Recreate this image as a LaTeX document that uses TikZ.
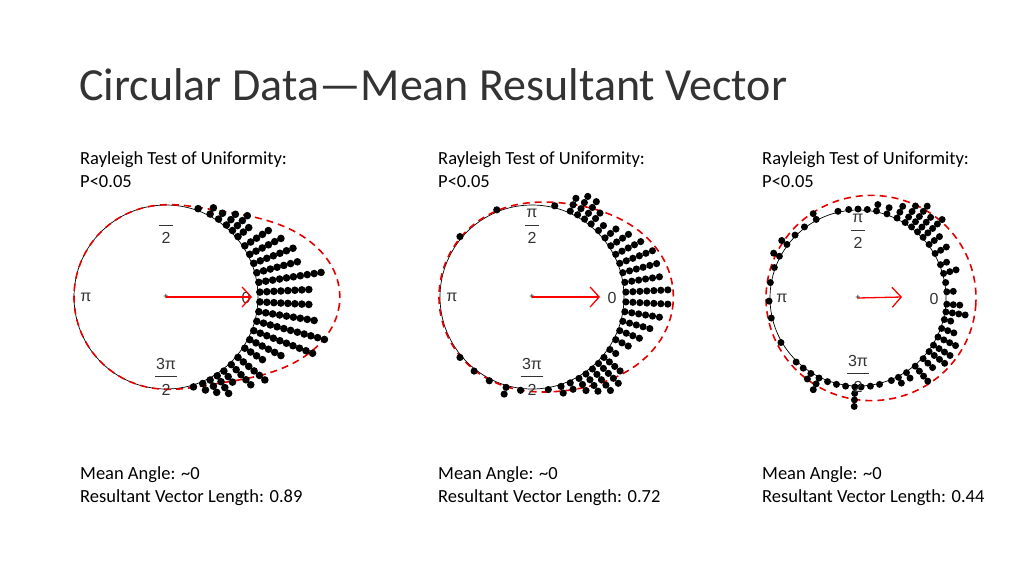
\documentclass[tikz,border=0pt]{standalone}
\usepackage{fontspec}
\setmainfont{Carlito}
\newfontfamily\plotfont{Liberation Sans}
\usetikzlibrary{arrows.meta,calc}
\begin{document}
\begin{tikzpicture}[x=1pt,y=-1pt,
  txt/.style={anchor=base west,inner sep=0,font=\fontsize{18.5}{20}\selectfont},
  lab/.style={inner sep=0,font=\plotfont\fontsize{16}{18}\selectfont,text=black!80},
  dens/.style={red!90!black,dashed,dash pattern=on 7pt off 5pt,line width=1.6pt},
  vec/.style={red,line width=1.3pt,-{Straight Barb[length=9pt,width=20pt,line width=1.3pt]}},
  circ/.style={black,line width=0.7pt}]
\useasboundingbox (0,0) rectangle (1024,576);
\fill[white] (0,0) rectangle (1024,576);
\node[anchor=base west,inner sep=0,font=\fontsize{46}{52}\selectfont,text=black!80] (title) at (79,100) {Circular Data—Mean Resultant Vector};
% texts
\foreach \x/\v [count=\i] in {80/0.89,438/0.72,762/0.44}{
  \node[txt] (ra\i) at (\x,164) {Rayleigh Test of Uniformity:};
  \node[txt] (rb\i) at (\x,187) {P<0.05};
  \node[txt] (ma\i) at (\x,479) {Mean Angle: \textasciitilde 0};
  \node[txt] (mb\i) at (\x,502) {Resultant Vector Length: \v};
}
% centres
\coordinate (c1) at (166,297);
\coordinate (c2) at (532,297);
\coordinate (c3) at (858,298);
% plot 1
\draw[circ] (c1) circle (92);
\draw[dens,shift={(c1)}] plot[domain=0:360,samples=160,smooth cycle] (\x:{92*(1+0.89*((1+cos(\x))/2)^8)});
\foreach \a/\n in {70/1,62/2,56/2,50/3,45/4,40/3,33/5,27/6,21/7,15/7,9/10,3/8,-3/8,-9/9,-15/11,-21/10,-27/6,-33/4,-40/6,-46/5,-52/3,-57/4,-62/3,-67/2,-73/1}
  \foreach \k in {1,...,\n} \fill ($(c1)+({-\a}:{94+7*(\k-1)})$) circle (3.8);
% plot 2
\draw[circ] (c2) circle (92);
\draw[dens,shift={(c2)}] plot[domain=0:360,samples=160,smooth cycle] (\x:{93*(1+0.52*((1+cos(\x))/2)^5)});
\foreach \a/\n in {76/1,66/3,61/4,56/4,51/3,45/2,39/3,33/4,27/5,21/6,15/6,9/6,3/7,-3/7,-9/6,-15/5,-21/4,-27/3,-34/2,-40/4,-45/5,-50/5,-55/4,-60/3,-66/2,-72/2,-80/1,-97/1,-106/2,-117/1,-128/1,-140/1,140/1,112/1}
  \foreach \k in {1,...,\n} \fill ($(c2)+({-\a}:{94+7*(\k-1)})$) circle (3.6);
% plot 3
\draw[circ] (c3) circle (88);
\draw[dens,shift={(c3)}] plot[domain=0:360,samples=120,smooth cycle] ({8+100*(1+0.1*((1+cos(\x))/2)^2)*cos(\x)},{100*(1+0.1*((1+cos(\x))/2)^2)*sin(\x)});
\foreach \a/\n in {118/2,103/1,96/1,90/1,84/1,78/2,71/2,64/3,58/4,53/5,48/4,43/5,37/3,30/3,22/2,16/3,10/1,4/2,-4/3,-9/4,-14/2,-20/3,-26/4,-32/4,-37/4,-43/3,-50/4,-57/2,-63/2,-68/1,-76/1,-82/1,-88/1,-92/4,-98/1,-104/1,-110/1,-116/3,-122/2,-128/1,-134/1,-150/1,-167/1,-178/1,170/1,160/1,152/2,143/2,135/1,127/1}
  \foreach \k in {1,...,\n} \fill ($(c3)+({-\a}:{89+6.5*(\k-1)})$) circle (3.5);
% labels and vectors
\foreach \i/\r/\e in {1/92/252,2/92/600,3/88/902}{
  \node[lab] (pi\i) at ($(c\i)+({-\r+12},0)$) {π};
  \node[lab] (z\i) at ($(c\i)+({\r-12},1)$) {0};
  \draw[black!80,line width=1pt] ($(c\i)+(-7,{-\r+20})$) -- ($(c\i)+(7,{-\r+20})$);
  \node[lab] (two\i) at ($(c\i)+(0,{-\r+33})$) {2};
  \node[lab] (tp\i) at ($(c\i)+(0,{\r-25})$) {3π};
  \draw[black!80,line width=1pt] ($(c\i)+(-11,{\r-13})$) -- ($(c\i)+(11,{\r-13})$);
  \node[lab] (tb\i) at ($(c\i)+(0,{\r+1})$) {2};
  \node[font=\plotfont\small,inner sep=0] (plus\i) at (c\i) {+};
  \coordinate (ee\i) at (\e,297);
  \draw[vec] (c\i) -- (ee\i);
}
\node[lab] (pt2) at ($(c2)+(0,-84)$) {π};
\node[lab] (pt3) at ($(c3)+(0,-80)$) {π};
\end{tikzpicture}
\end{document}
